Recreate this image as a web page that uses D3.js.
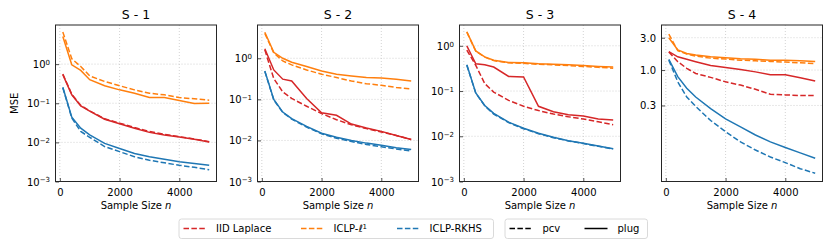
<!DOCTYPE html>
<html><head><meta charset="utf-8">
<script src="https://cdn.jsdelivr.net/npm/d3@7"></script>
<style>body{margin:0;background:#fff}svg{display:block;font-family:"DejaVu Sans",sans-serif}</style>
</head><body><svg id="c" width="831" height="247"></svg>
<script>
const sampleSizes = [100,400,700,1000,1500,2000,2500,3000,3500,4000,4500,5000];
const panelTitles = ["S - 1","S - 2","S - 3","S - 4"];
const xTicks = [0,2000,4000];
const logTicks = [1e-3,1e-2,1e-1,1];
const s4Ticks = [0.3,1.0,3.0];
const s4TickLabels = ["0.3","1.0","3.0"];
const yLogTop = [1.0, 0.81, 0.46, 0.665];
const yLogBottom = [-3, -3, -3, -1.645];

// S-1
const s1LaplacePcv = [0.56,0.17,0.088,0.064,0.040,0.031,0.024,0.019,0.016,0.0140,0.0122,0.0104];
const s1LaplacePlug = [0.54,0.164,0.085,0.063,0.039,0.030,0.023,0.018,0.0155,0.0137,0.012,0.0102];
const s1L1Pcv = [6.6,1.37,0.87,0.50,0.36,0.28,0.22,0.18,0.164,0.14,0.13,0.12];
const s1L1Plug = [5.1,0.96,0.69,0.40,0.28,0.22,0.18,0.14,0.14,0.117,0.098,0.10];
const s1RkhsPcv = [0.25,0.042,0.019,0.0135,0.0078,0.0058,0.0043,0.0035,0.0030,0.0026,0.0023,0.0020];
const s1RkhsPlug = [0.257,0.044,0.023,0.0155,0.0094,0.0070,0.0052,0.0043,0.0037,0.0032,0.0029,0.0026];
// S-2
const s2LaplacePcv = [1.6,0.32,0.152,0.105,0.068,0.045,0.032,0.024,0.0194,0.016,0.0132,0.0105];
const s2LaplacePlug = [1.7,0.52,0.31,0.28,0.105,0.047,0.041,0.025,0.020,0.0166,0.0132,0.0105];
const s2L1Pcv = [4.0,1.35,0.86,0.69,0.52,0.41,0.34,0.28,0.24,0.22,0.195,0.18];
const s2L1Plug = [4.3,1.4,1.0,0.8,0.63,0.49,0.41,0.37,0.34,0.33,0.31,0.28];
const s2RkhsPcv = [0.48,0.097,0.048,0.033,0.021,0.0145,0.0113,0.0094,0.0080,0.0070,0.0062,0.0055];
const s2RkhsPlug = [0.49,0.099,0.049,0.034,0.022,0.015,0.012,0.010,0.0086,0.0076,0.0066,0.0060];
// S-3
const s3LaplacePcv = [0.8,0.37,0.146,0.095,0.062,0.046,0.037,0.031,0.027,0.024,0.021,0.018];
const s3LaplacePlug = [1.0,0.40,0.38,0.34,0.21,0.205,0.046,0.035,0.030,0.028,0.024,0.023];
const s3L1Pcv = [2.0,0.76,0.56,0.47,0.42,0.41,0.39,0.38,0.365,0.35,0.335,0.32];
const s3L1Plug = [2.05,0.77,0.57,0.48,0.43,0.42,0.40,0.39,0.38,0.366,0.35,0.34];
const s3RkhsPcv = [0.37,0.090,0.047,0.031,0.020,0.0147,0.0114,0.0093,0.0079,0.0069,0.0060,0.0052];
const s3RkhsPlug = [0.38,0.091,0.048,0.032,0.0205,0.015,0.0117,0.0095,0.0080,0.0070,0.0061,0.0053];
// S-4
const s4LaplacePcv = [1.85,1.33,1.06,0.89,0.78,0.67,0.60,0.52,0.44,0.43,0.42,0.42];
const s4LaplacePlug = [1.87,1.57,1.44,1.33,1.17,1.09,1.02,0.94,0.85,0.85,0.77,0.69];
const s4L1Pcv = [3.4,1.93,1.72,1.61,1.50,1.45,1.40,1.37,1.34,1.31,1.28,1.25];
const s4L1Plug = [3.0,1.98,1.76,1.67,1.57,1.52,1.47,1.44,1.40,1.39,1.37,1.34];
const s4RkhsPcv = [1.40,0.67,0.40,0.29,0.18,0.123,0.087,0.066,0.052,0.043,0.035,0.030];
const s4RkhsPlug = [1.44,0.80,0.54,0.40,0.27,0.19,0.145,0.110,0.087,0.072,0.060,0.050];

const methodNames = ["IID Laplace","ICLP-ℓ1","ICLP-RKHS"];
const methodColors = ["#d62728","#ff7f0e","#1f77b4"];
const styleNames = ["pcv","plug"];

const panelSeries = [
  [[s1LaplacePcv,s1LaplacePlug],[s1L1Pcv,s1L1Plug],[s1RkhsPcv,s1RkhsPlug]],
  [[s2LaplacePcv,s2LaplacePlug],[s2L1Pcv,s2L1Plug],[s2RkhsPcv,s2RkhsPlug]],
  [[s3LaplacePcv,s3LaplacePlug],[s3L1Pcv,s3L1Plug],[s3RkhsPcv,s3RkhsPlug]],
  [[s4LaplacePcv,s4LaplacePlug],[s4L1Pcv,s4L1Plug],[s4RkhsPcv,s4RkhsPlug]]
];

const svg = d3.select("#c");
const PW = 161, PT = 25, PB = 181.5, GAP = 202, LEFT0 = 55.5;
const dash = "5.5,2.4";
const spineColor = "#262626";

panelTitles.forEach((title, p) => {
  const x0 = LEFT0 + p*GAP;
  const g = svg.append("g");
  const x = d3.scaleLinear().domain([-145, 5245]).range([x0, x0+PW]);
  const y = d3.scaleLog().domain([Math.pow(10,yLogBottom[p]), Math.pow(10,yLogTop[p])]).range([PB, PT]);
  const yt = p < 3 ? logTicks : s4Ticks;
  g.selectAll(".gx").data(xTicks).join("line")
    .attr("x1", d=>x(d)).attr("x2", d=>x(d)).attr("y1", PT).attr("y2", PB)
    .attr("stroke","#c8c8c8").attr("stroke-width",0.8).attr("stroke-dasharray","1,2");
  g.selectAll(".gy").data(yt).join("line")
    .attr("x1", x0).attr("x2", x0+PW).attr("y1", d=>y(d)).attr("y2", d=>y(d))
    .attr("stroke","#c8c8c8").attr("stroke-width",0.8).attr("stroke-dasharray","1,2");
  const clipId = "clip"+p;
  svg.append("clipPath").attr("id",clipId).append("rect").attr("x",x0).attr("y",PT).attr("width",PW).attr("height",PB-PT);
  const line = d3.line().x((d,i)=>x(sampleSizes[i])).y(d=>y(d));
  panelSeries[p].forEach((pair, m) => {
    pair.forEach((vals, s) => {
      g.append("path").datum(vals).attr("d", line).attr("clip-path",`url(#${clipId})`)
        .attr("fill","none").attr("stroke", methodColors[m]).attr("stroke-width",1.5)
        .attr("stroke-dasharray", s===0 ? dash : null);
    });
  });
  const xAxis = d3.axisBottom(x).tickValues(xTicks).tickSizeInner(-3.5).tickSizeOuter(0).tickPadding(7).tickFormat(d3.format("d"));
  const xg = g.append("g").attr("transform",`translate(0,${PB})`).call(xAxis);
  xg.select(".domain").remove();
  xg.selectAll("line").attr("stroke",spineColor).attr("stroke-width",0.8);
  xg.selectAll("text").attr("font-size",10).attr("font-family","DejaVu Sans").attr("fill","#000").attr("dy","0.71em");
  const yAxis = d3.axisLeft(y).tickValues(yt).tickSizeInner(-3.5).tickSizeOuter(0).tickPadding(6).tickFormat(()=>"");
  const yg = g.append("g").attr("transform",`translate(${x0},0)`).call(yAxis);
  yg.select(".domain").remove();
  yg.selectAll("line").attr("stroke",spineColor).attr("stroke-width",0.8);
  yg.selectAll(".tick text").each(function(d, i){
    const t = d3.select(this).attr("font-size",10).attr("font-family","DejaVu Sans").attr("fill","#000").attr("dy","0.35em").attr("x",-5.5);
    if (p < 3) {
      const e = Math.round(Math.log10(d));
      t.append("tspan").text("10");
      t.append("tspan").attr("font-size",7).attr("dy","-0.45em").text(e===0 ? "0" : "\u2212"+Math.abs(e));
    } else {
      t.text(s4TickLabels[i]);
    }
  });
  g.append("rect").attr("x",x0).attr("y",PT).attr("width",PW).attr("height",PB-PT)
    .attr("fill","none").attr("stroke",spineColor).attr("stroke-width",1);
  g.append("text").attr("x",x0+PW/2).attr("y",18.5).attr("text-anchor","middle").attr("font-size",12.5).attr("fill","#000").text(title);
  const xl = g.append("text").attr("x",x0+PW/2).attr("y",208.5).attr("text-anchor","middle").attr("font-size",10).attr("fill","#000");
  xl.append("tspan").text("Sample Size ");
  xl.append("tspan").attr("font-style","italic").text("n");
});

svg.append("text").attr("transform",`translate(17.5,${(PT+PB)/2}) rotate(-90)`).attr("text-anchor","middle").attr("font-size",10).attr("fill","#000").text("MSE");

function legendBox(x, w){
  svg.append("rect").attr("x",x).attr("y",219).attr("width",w).attr("height",19.5).attr("rx",2.5)
    .attr("fill","#fff").attr("stroke","#d0d0d0").attr("stroke-width",0.8);
}
legendBox(179, 314.5);
legendBox(505, 142.5);
const ly = 228.5;
const methodHandleX = [183.5, 301, 397];
methodNames.forEach((name, m) => {
  const hx = methodHandleX[m];
  svg.append("line").attr("x1",hx).attr("x2",hx+23).attr("y1",ly).attr("y2",ly)
    .attr("stroke",methodColors[m]).attr("stroke-width",1.5).attr("stroke-dasharray",dash);
  const t = svg.append("text").attr("x",hx+32.5).attr("y",ly+3.6).attr("font-size",10).attr("fill","#000");
  if (m === 1) {
    t.append("tspan").text("ICLP-");
    t.append("tspan").attr("font-style","italic").text("ℓ");
    t.append("tspan").attr("font-size",7).attr("dy","-0.5em").text("1");
  } else t.text(name);
});
const styleHandleX = [509.5, 584.5];
styleNames.forEach((name, s) => {
  const hx = styleHandleX[s];
  svg.append("line").attr("x1",hx).attr("x2",hx+23).attr("y1",ly).attr("y2",ly)
    .attr("stroke","#000").attr("stroke-width",1.5).attr("stroke-dasharray", s===0 ? dash : null);
  svg.append("text").attr("x",hx+33).attr("y",ly+3.6).attr("font-size",10).attr("fill","#000").text(name);
});
</script></body></html>
